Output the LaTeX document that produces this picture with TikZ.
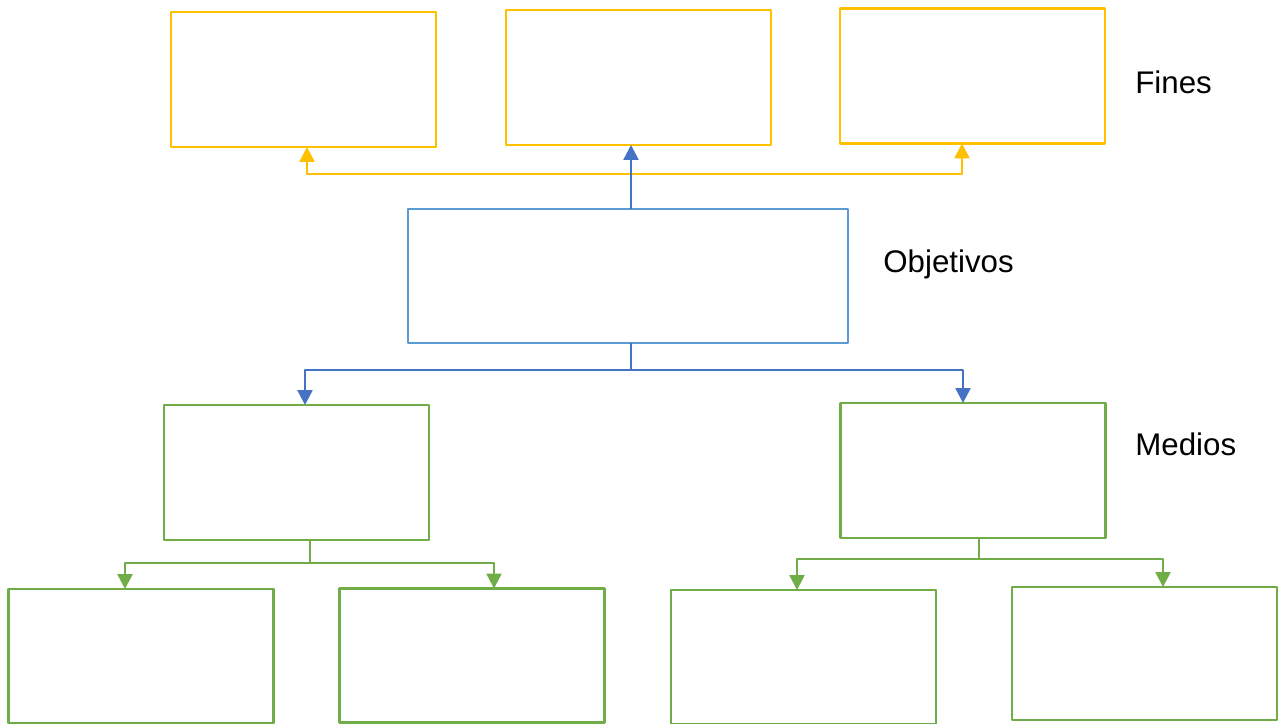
\documentclass[tikz,border=0pt]{standalone}
\usepackage{fontspec}
\setmainfont{Liberation Sans}
\usetikzlibrary{arrows.meta}
\definecolor{finyellow}{HTML}{FFC000}
\definecolor{objblue}{HTML}{5B9BD5}
\definecolor{lineblue}{HTML}{4472C4}
\definecolor{mediogreen}{HTML}{70AD47}
\begin{document}
\begin{tikzpicture}[x=0.02cm, y=-0.02cm, line join=round,
	box/.style={draw, line width=1.4pt, minimum width=5.3cm, minimum height=2.7cm, outer sep=0pt},
	fin/.style={box, draw=finyellow},
	medio/.style={box, draw=mediogreen},
	lbl/.style={anchor=west, inner sep=0pt, font=\fontsize{17.8}{21}\selectfont},
	tip/.style={-{Triangle[length=0.3cm,width=0.3cm]}},
	ylink/.style={draw=finyellow, line width=1.4pt},
	blink/.style={draw=lineblue, line width=1.4pt},
	glink/.style={draw=mediogreen, line width=1.4pt}]
	\useasboundingbox (0,0) rectangle (1280,723);
	% fines
	\node[fin] (f1) at (303.5,79.5) {};
	\node[fin] (f2) at (638.5,77.5) {};
	\node[fin] (f3) at (972.5,76) {};
	\node[lbl] (fines) at (1135,82) {Fines};
	% objetivos
	\node[box, draw=objblue, minimum width=8.8cm, minimum height=2.68cm] (obj) at (628,276) {};
	\node[lbl] (objetivos) at (883,264) {Objetivos};
	% medios
	\node[medio] (m1) at (296.5,472.5) {};
	\node[medio] (m2) at (973,470.5) {};
	\node[lbl] (medios) at (1135,444) {Medios};
	\node[medio, minimum height=2.68cm] (b1) at (141,656) {};
	\node[medio, minimum height=2.68cm] (b2) at (472,655.5) {};
	\node[medio, minimum height=2.68cm] (b3) at (803.5,657) {};
	\node[medio, minimum height=2.66cm] (b4) at (1144.5,653.5) {};
	% conectores
	\path[ylink, {Triangle[length=0.3cm,width=0.3cm]}-{Triangle[length=0.3cm,width=0.3cm]}]
		([xshift=0.07cm]f1.south) -- ++(0,27) -| ([xshift=-0.21cm]f3.south);
	\path[blink, tip] ([xshift=0.06cm]obj.north) -- ([xshift=0.06cm]obj.north |- f2.south);
	\path[blink] ([xshift=0.06cm]obj.south) -- ++(0,27) coordinate (objfork);
	\path[blink, tip] (objfork) -| ([xshift=0.17cm]m1.north);
	\path[blink, tip] (objfork) -| ([xshift=-0.2cm]m2.north);
	\path[glink] ([xshift=0.27cm]m1.south) -- ++(0,23) coordinate (m1fork);
	\path[glink, tip] (m1fork) -| ([xshift=-0.32cm]b1.north);
	\path[glink, tip] (m1fork) -| ([xshift=0.44cm]b2.north);
	\path[glink] ([xshift=0.12cm]m2.south) -- ++(0,21) coordinate (m2fork);
	\path[glink, tip] (m2fork) -| ([xshift=-0.13cm]b3.north);
	\path[glink, tip] (m2fork) -| ([xshift=0.37cm]b4.north);
\end{tikzpicture}
\end{document}
